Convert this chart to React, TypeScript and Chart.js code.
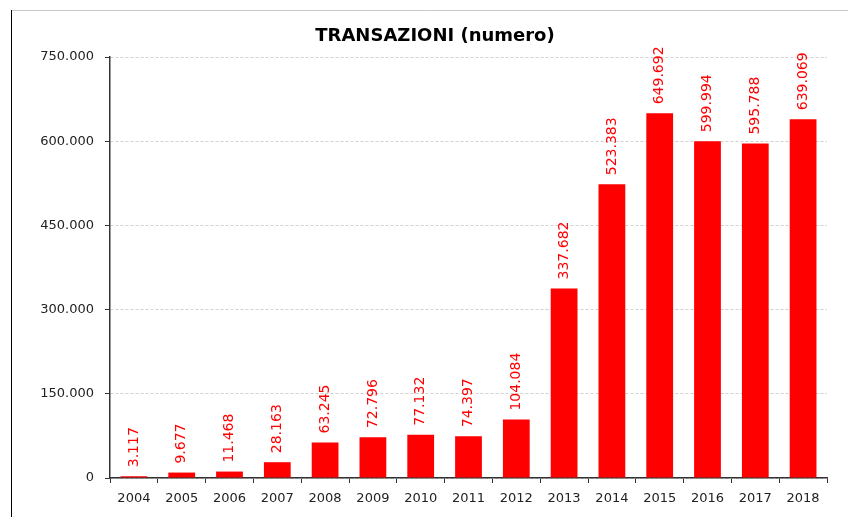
import React, { useEffect, useRef } from "react";
import { Chart, registerables } from "chart.js";

Chart.register(...registerables);

const years = ["2004", "2005", "2006", "2007", "2008", "2009", "2010", "2011", "2012", "2013", "2014", "2015", "2016", "2017", "2018"];
const transazioni = [3117, 9677, 11468, 28163, 63245, 72796, 77132, 74397, 104084, 337682, 523383, 649692, 599994, 595788, 639069];
const yMax = 750000;
const yStep = 150000;
const titleText = "TRANSAZIONI (numero)";

const fmt = (v: number) => Math.round(v).toString().replace(/\B(?=(\d{3})+(?!\d))/g, ".");

const FONT = "'DejaVu Sans', sans-serif";

const decorPlugin = {
  id: "decor",
  beforeDraw(chart: any) {
    const ctx = chart.ctx;
    ctx.save();
    ctx.fillStyle = "#ffffff";
    ctx.fillRect(0, 0, chart.width, chart.height);
    ctx.strokeStyle = "#c8c8c8";
    ctx.lineWidth = 1;
    ctx.beginPath();
    ctx.moveTo(11, 10.5);
    ctx.lineTo(chart.width, 10.5);
    ctx.stroke();
    ctx.strokeStyle = "#000000";
    ctx.beginPath();
    ctx.moveTo(11.5, 10);
    ctx.lineTo(11.5, chart.height);
    ctx.stroke();
    ctx.restore();
  },
  afterDraw(chart: any) {
    const ctx = chart.ctx;
    ctx.save();
    ctx.fillStyle = "#000000";
    ctx.font = `bold 18px ${FONT}`;
    ctx.textAlign = "center";
    ctx.textBaseline = "middle";
    ctx.fillText(titleText, 435, 36);

    const meta = chart.getDatasetMeta(0);
    ctx.fillStyle = "#ff0000";
    ctx.font = `14px ${FONT}`;
    ctx.textAlign = "left";
    ctx.textBaseline = "middle";
    meta.data.forEach((bar: any, i: number) => {
      const v = chart.data.datasets[0].data[i] as number;
      ctx.save();
      ctx.translate(bar.x, bar.y - 9);
      ctx.rotate(-Math.PI / 2);
      ctx.fillText(fmt(v), 0, 0);
      ctx.restore();
    });
    ctx.restore();
  },
};

export default function App() {
  const ref = useRef<HTMLCanvasElement | null>(null);
  useEffect(() => {
    if (!ref.current) return;
    const chart = new Chart(ref.current, {
      type: "bar",
      data: {
        labels: years,
        datasets: [
          {
            data: transazioni,
            backgroundColor: "#ff0000",
            borderWidth: 0,
            barPercentage: 0.56,
            categoryPercentage: 1,
          },
        ],
      },
      options: {
        responsive: false,
        animation: false,
        events: [],
        layout: { padding: { left: 0, right: 21, top: 57, bottom: 0 } },
        plugins: { legend: { display: false }, title: { display: false }, tooltip: { enabled: false } },
        scales: {
          x: {
            grid: {
              offset: true,
              drawOnChartArea: false,
              drawTicks: true,
              tickLength: 5,
              color: "#333333",
              tickColor: "#333333",
            },
            border: { color: "#333333", width: 1.5 },
            ticks: { color: "#222222", font: { family: FONT, size: 13 }, padding: 8, maxRotation: 0, autoSkip: false },
            afterFit: (s: any) => {
              s.height = 39;
            },
          },
          y: {
            min: 0,
            max: yMax,
            grid: {
              color: "#d0d0d0",
              tickColor: "#333333",
              tickLength: 5,
              drawTicks: true,
              tickBorderDash: [],
            },
            border: { color: "#333333", width: 1.5, dash: [3, 2] },
            ticks: {
              stepSize: yStep,
              color: "#222222",
              font: { family: FONT, size: 13 },
              padding: 11,
              callback: (v: any) => fmt(Number(v)),
            },
            afterFit: (s: any) => {
              s.width = 110;
            },
          },
        },
      },
      plugins: [decorPlugin],
    });
    return () => chart.destroy();
  }, []);
  return (
    <div style={{ position: "fixed", left: 0, top: 0, width: 848, height: 517 }}>
      <canvas ref={ref} width={848} height={517} style={{ display: "block" }} />
    </div>
  );
}
